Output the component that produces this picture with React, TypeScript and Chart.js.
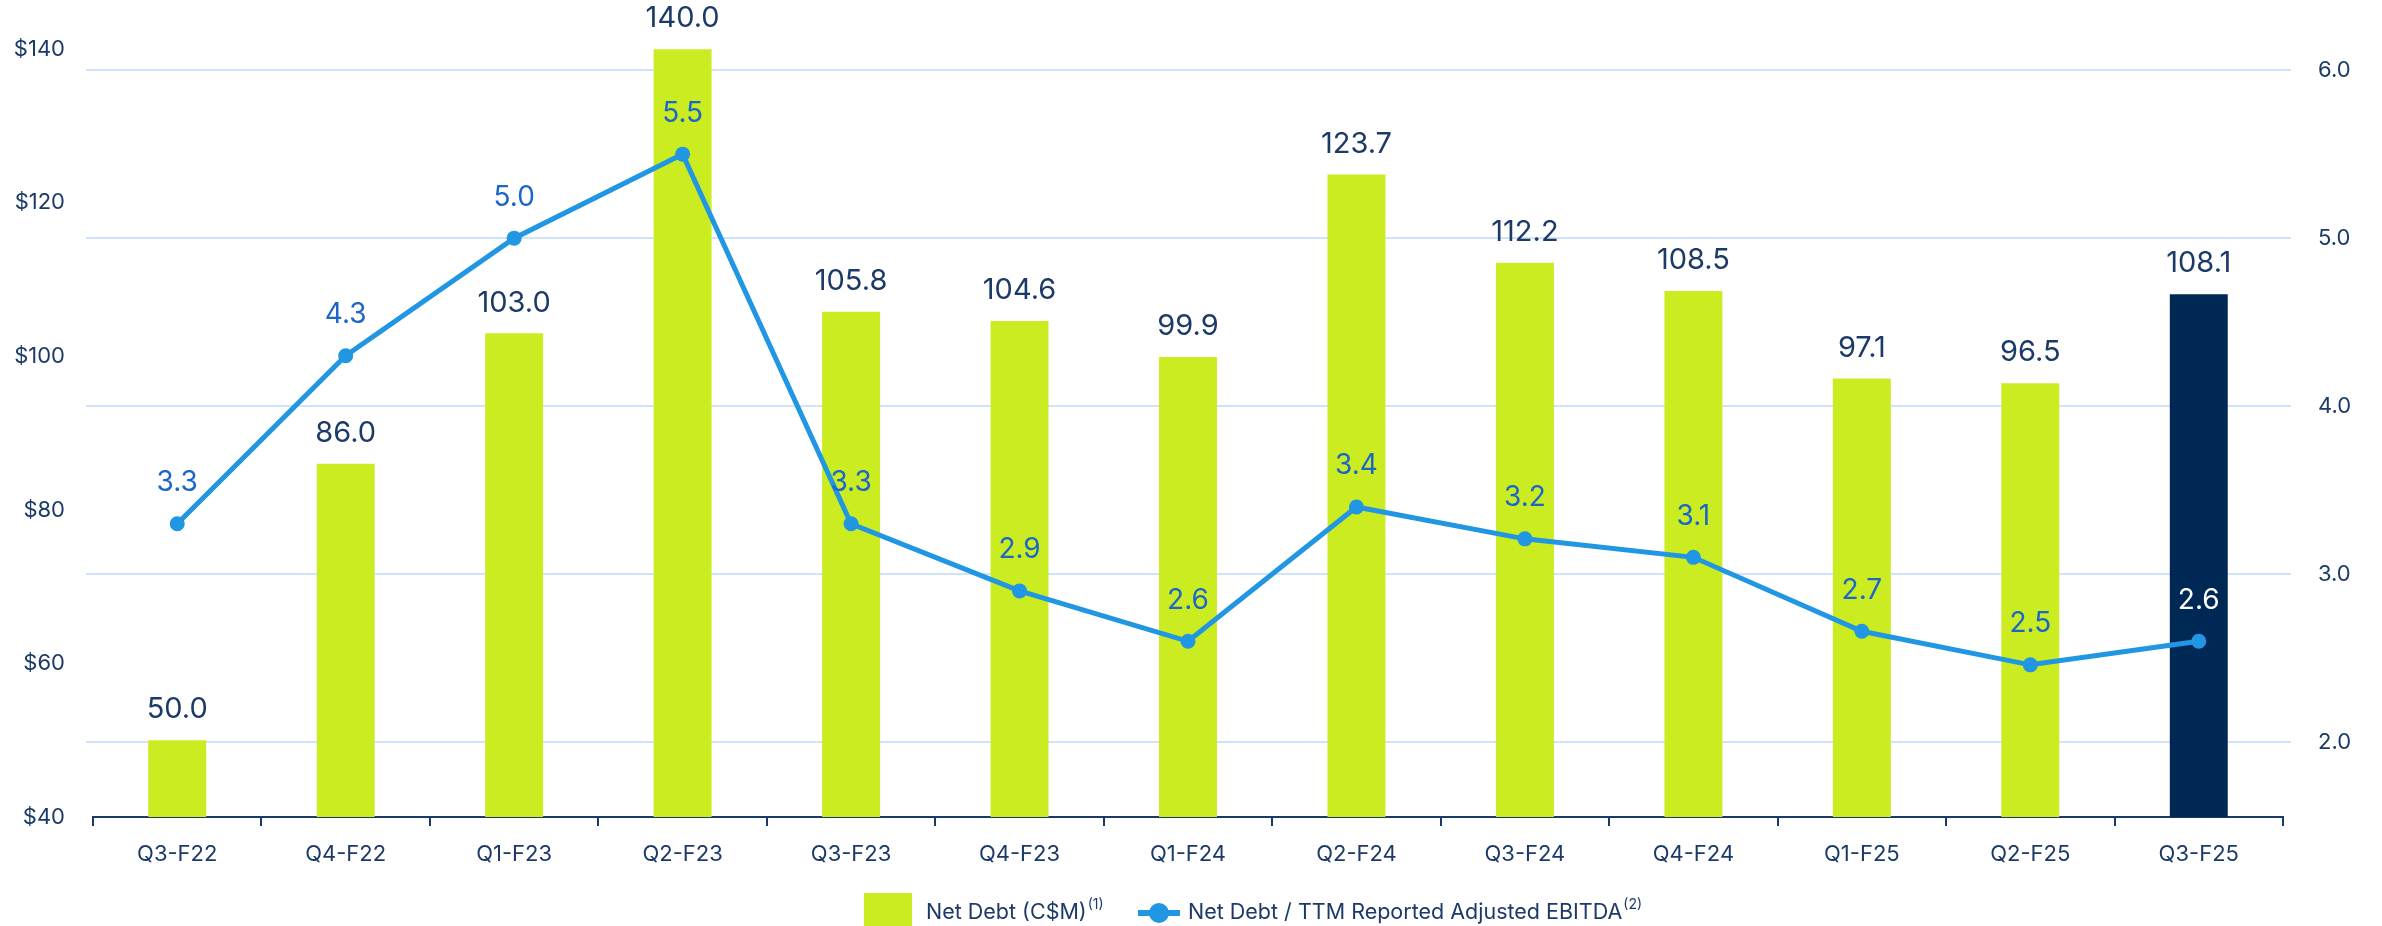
import React, { useEffect, useRef } from "react";
import { Chart, registerables } from "chart.js";

Chart.register(...registerables);

const categories = ["Q3-F22", "Q4-F22", "Q1-F23", "Q2-F23", "Q3-F23", "Q4-F23", "Q1-F24", "Q2-F24", "Q3-F24", "Q4-F24", "Q1-F25", "Q2-F25", "Q3-F25"];
const netDebt = [50.0, 86.0, 103.0, 140.0, 105.8, 104.6, 99.9, 123.7, 112.2, 108.5, 97.1, 96.5, 108.1];
const leverage = [3.3, 4.3, 5.0, 5.5, 3.3, 2.9, 2.6, 3.4, 3.21, 3.1, 2.66, 2.46, 2.6];
const leftTicks = [40, 60, 80, 100, 120, 140];
const rightTicks = [2, 3, 4, 5, 6];

const LIME = "#CAEC20";
const NAVY_BAR = "#002855";
const LINE = "#2196E3";
const TEXT = "#1C3A68";
const LINE_TEXT = "#1B66C9";
const GRID = "#CFE3FA";
const FONT = "Inter, 'Open Sans', sans-serif";

const labelsPlugin = {
  id: "valueLabels",
  beforeDatasetsDraw(chart: any) {
    const ctx = chart.ctx;
    const y1 = chart.scales.y1;
    const area = chart.chartArea;
    ctx.save();
    ctx.strokeStyle = GRID;
    ctx.lineWidth = 2;
    y1.ticks.forEach((t: any) => {
      const py = Math.round(y1.getPixelForValue(t.value));
      ctx.beginPath();
      ctx.moveTo(area.left - 7, py);
      ctx.lineTo(area.left, py);
      ctx.stroke();
    });
    ctx.restore();
  },
  afterDatasetsDraw(chart: any) {
    const ctx = chart.ctx;
    ctx.save();
    ctx.textAlign = "center";
    const barMeta = chart.getDatasetMeta(1);
    ctx.font = `400 29px ${FONT}`;
    ctx.fillStyle = TEXT;
    ctx.textBaseline = "bottom";
    barMeta.data.forEach((el: any, i: number) => {
      ctx.fillText(netDebt[i].toFixed(1), el.x, el.y - 16);
    });
    const lineMeta = chart.getDatasetMeta(0);
    ctx.font = `400 28px ${FONT}`;
    ctx.textBaseline = "middle";
    lineMeta.data.forEach((el: any, i: number) => {
      ctx.fillStyle = i === leverage.length - 1 ? "#FFFFFF" : LINE_TEXT;
      ctx.fillText(leverage[i].toFixed(1), el.x, el.y - 41);
    });
    ctx.restore();
  },
  afterDraw(chart: any) {
    const ctx = chart.ctx;
    ctx.save();
    const cy = 913;
    ctx.fillStyle = LIME;
    ctx.fillRect(864, 893, 48, 48);
    ctx.fillStyle = TEXT;
    ctx.textAlign = "left";
    ctx.textBaseline = "middle";
    ctx.font = `400 21.5px ${FONT}`;
    const t1 = "Net Debt (C$M)";
    ctx.fillText(t1, 926, cy);
    let w = ctx.measureText(t1).width;
    ctx.font = `400 14px ${FONT}`;
    ctx.fillText("(1)", 926 + w + 1, cy - 8);
    ctx.strokeStyle = LINE;
    ctx.lineWidth = 6;
    ctx.beginPath();
    ctx.moveTo(1138, cy);
    ctx.lineTo(1180, cy);
    ctx.stroke();
    ctx.fillStyle = LINE;
    ctx.beginPath();
    ctx.arc(1159, cy, 10, 0, Math.PI * 2);
    ctx.fill();
    ctx.fillStyle = TEXT;
    ctx.font = `400 21.5px ${FONT}`;
    const t2 = "Net Debt / TTM Reported Adjusted EBITDA";
    ctx.fillText(t2, 1188, cy);
    w = ctx.measureText(t2).width;
    ctx.font = `400 14px ${FONT}`;
    ctx.fillText("(2)", 1188 + w + 1, cy - 8);
    ctx.restore();
  },
};

export default function App() {
  const ref = useRef<HTMLCanvasElement | null>(null);
  useEffect(() => {
    if (!ref.current) return;
    const chart = new Chart(ref.current, {
      type: "bar",
      data: {
        labels: categories,
        datasets: [
          {
            type: "line",
            label: "Net Debt / TTM Reported Adjusted EBITDA",
            data: leverage,
            yAxisID: "y1",
            borderColor: LINE,
            backgroundColor: LINE,
            borderWidth: 5,
            pointRadius: 7.5,
            pointBackgroundColor: LINE,
            pointBorderWidth: 0,
            tension: 0,
            order: 0,
            clip: false,
          } as any,
          {
            type: "bar",
            label: "Net Debt (C$M)",
            data: netDebt,
            yAxisID: "y",
            base: 40,
            backgroundColor: netDebt.map((_, i) => (i === netDebt.length - 1 ? NAVY_BAR : LIME)),
            categoryPercentage: 1,
            barPercentage: 0.344,
            borderWidth: 0,
            order: 1,
            clip: { left: 0, top: false, right: 0, bottom: 0 },
          } as any,
        ],
      },
      options: {
        animation: false,
        responsive: true,
        maintainAspectRatio: false,
        layout: { padding: { top: 40, left: 0, right: 0, bottom: 0 } },
        plugins: {
          legend: { display: false },
          tooltip: { enabled: false },
        },
        scales: {
          x: {
            offset: true,
            grid: {
              offset: true,
              drawOnChartArea: false,
              drawTicks: true,
              tickLength: 9,
              color: TEXT,
              lineWidth: 2,
            },
            border: { display: true, color: TEXT, width: 2 },
            ticks: {
              color: TEXT,
              font: { family: FONT, size: 22 },
              padding: 15,
              maxRotation: 0,
            },
            afterFit(s: any) {
              s.height = 109;
            },
          },
          y: {
            position: "left",
            min: 40,
            max: 141.05,
            grid: { display: false, drawTicks: false },
            border: { display: false },
            afterBuildTicks(s: any) {
              s.ticks = leftTicks.map((v) => ({ value: v }));
            },
            ticks: {
              color: TEXT,
              font: { family: FONT, size: 22 },
              padding: 28,
              callback: (v: any) => "$" + v,
            },
            afterFit(s: any) {
              s.width = 93;
            },
          },
          y1: {
            position: "right",
            min: 1.5542,
            max: 6.1724,
            grid: {
              display: true,
              drawOnChartArea: true,
              drawTicks: true,
              tickLength: 8,
              color: GRID,
              lineWidth: 2,
            },
            border: { display: false },
            afterBuildTicks(s: any) {
              s.ticks = rightTicks.map((v) => ({ value: v }));
            },
            ticks: {
              color: TEXT,
              font: { family: FONT, size: 22 },
              padding: 27,
              callback: (v: any) => Number(v).toFixed(1),
            },
            afterFit(s: any) {
              s.width = 99;
            },
          },
        },
      },
      plugins: [labelsPlugin],
    });
    return () => chart.destroy();
  }, []);

  return (
    <div style={{ position: "fixed", left: 0, top: 0, width: 2382, height: 926, background: "#fff" }}>
      <canvas ref={ref} />
    </div>
  );
}
